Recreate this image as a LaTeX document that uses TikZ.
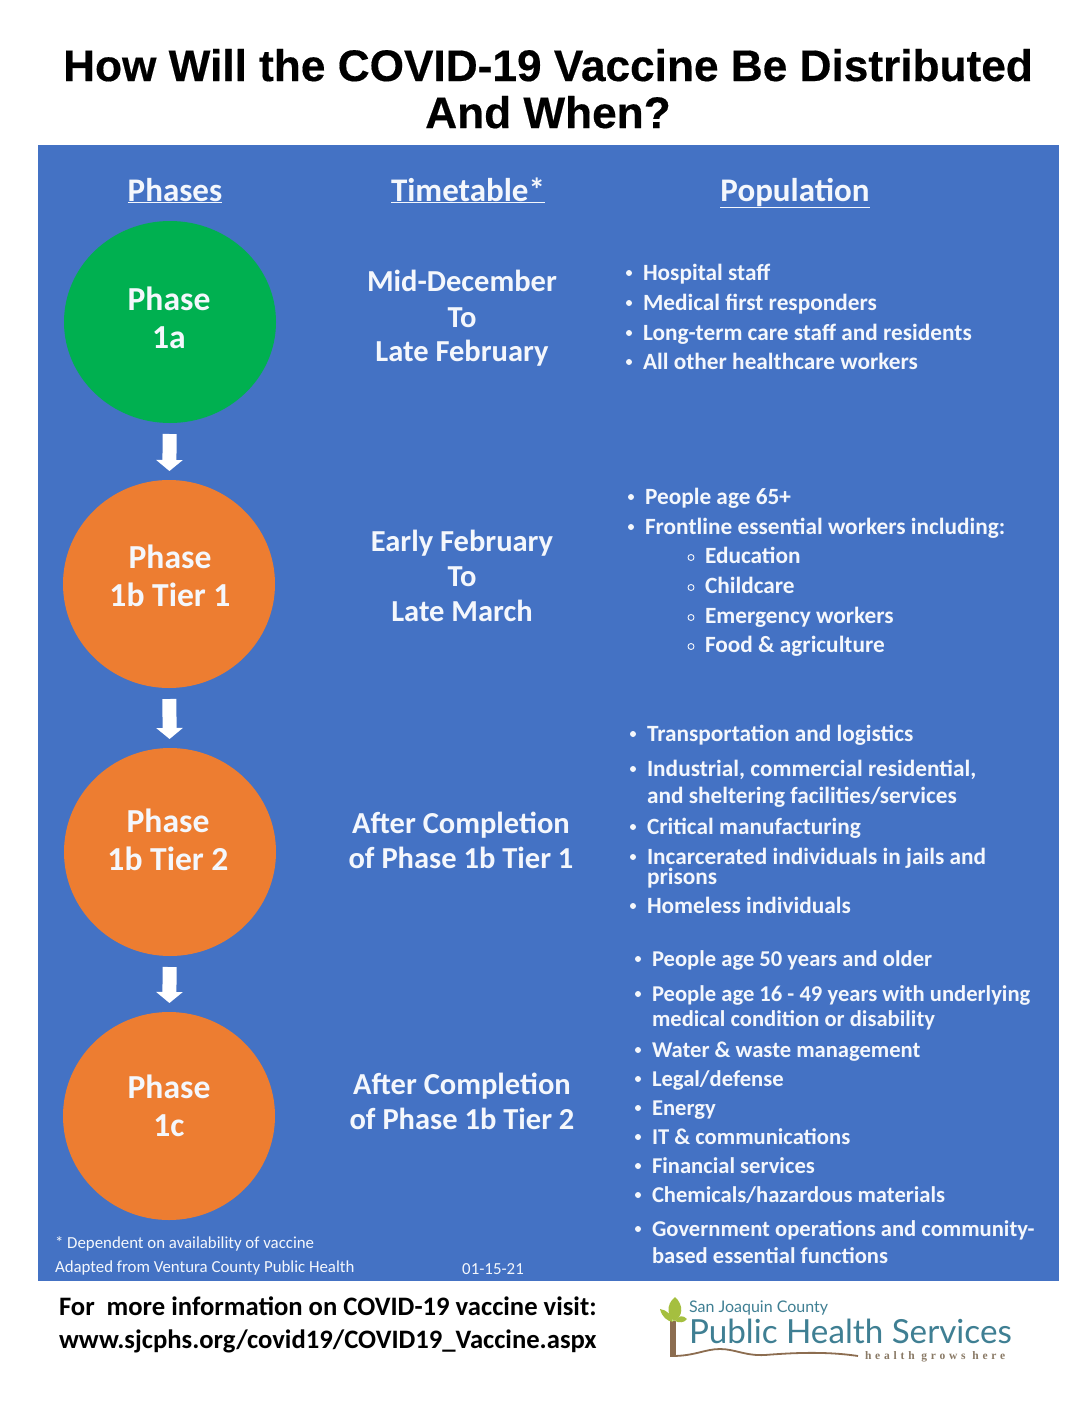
\documentclass[tikz,border=0pt]{standalone}
\usepackage{fontspec}
\setmainfont{Carlito}
\newfontfamily\titlefont[BoldFeatures={FakeBold=0.35}]{Liberation Sans}
\newfontfamily\logofont{Lato}
\newfontfamily\tagfont[LetterSpace=33]{Liberation Serif}
\usetikzlibrary{shapes.geometric,arrows.meta}
\definecolor{panel}{HTML}{4472C4}
\definecolor{phorange}{HTML}{ED7D31}
\definecolor{phgreen}{HTML}{00B050}
\definecolor{logoteal}{HTML}{3F7F93}
\definecolor{logobrown}{HTML}{8C6D50}
\definecolor{logoleaf}{HTML}{A5BF3F}
\definecolor{logotag}{HTML}{8A7A66}
\definecolor{wtext}{HTML}{F4F7FC}
\tikzset{
  x=1pt,y=-1pt,
  every node/.style={inner sep=0pt,outer sep=0pt},
  phasenode/.style={ellipse,minimum width=212pt,minimum height=208pt},
  phaselabel/.style={anchor=base,text=wtext,font=\fontsize{33.6}{38}\selectfont\bfseries},
  flow/.style={draw=white,line width=14pt,-{Triangle[length=11pt,width=26pt]},shorten <=11pt,shorten >=9pt},
  headtext/.style={anchor=base,text=wtext,font=\fontsize{33}{38}\selectfont\bfseries},
  timetext/.style={anchor=base,text=wtext,font=\fontsize{30.5}{36}\selectfont\bfseries},
  poptext/.style={anchor=base west,text=wtext,font=\fontsize{23.3}{28}\selectfont\bfseries},
  poptight/.style={poptext,font=\fontsize{22.6}{28}\selectfont\bfseries},
  bulletmark/.style={circle,fill=wtext,minimum size=6pt},
  subcircle/.style={circle,draw=wtext,line width=0.9pt,minimum size=6pt},
  notetext/.style={anchor=base west,text=wtext,font=\fontsize{16.85}{20}\selectfont},
  foottext/.style={anchor=base west,text=black,font=\fontsize{26.65}{32}\selectfont\bfseries},
  titletext/.style={anchor=base,text=black,font=\fontsize{44.2}{48}\selectfont\titlefont\bfseries},
}
\newcommand{\popitem}[4]{%
  \node[bulletmark] (#1b) at (#2-14,#3-7) {};
  \node[poptext] (#1) at (#2,#3) {#4};}
\newcommand{\popitemt}[4]{%
  \node[bulletmark] (#1b) at (#2-14,#3-7) {};
  \node[poptight] (#1) at (#2,#3) {#4};}
\newcommand{\popsub}[4]{%
  \node[subcircle] (#1b) at (#2-14,#3-5.5) {};
  \node[poptext] (#1) at (#2,#3) {#4};}
\newcommand{\popcont}[4]{\node[poptext] (#1) at (#2,#3) {#4};}
\newcommand{\popcontt}[4]{\node[poptight] (#1) at (#2,#3) {#4};}
\newcommand{\myuline}[1]{\underline{#1}}
\begin{document}
\begin{tikzpicture}
\useasboundingbox (0,0) rectangle (1088,1408);
\fill[white] (0,0) rectangle (1088,1408);
\fill[panel] (38,145) rectangle (1059,1281);
% title
\node[titletext] (t1) at (548,81) {How Will the COVID-19 Vaccine Be Distributed};
\node[titletext] (t2) at (548,128) {And When?};
% headings
\node[headtext] (h1) at (175,201) {\myuline{Phases}};
\node[headtext] (h2) at (468,201) {\myuline{Timetable*}};
\node[headtext] (h3) at (795,201) {\myuline{Population}};
% phases
\node[phasenode,fill=phgreen,minimum height=202pt] (a) at (170,322) {};
\node[phasenode,fill=phorange] (b) at (169,584) {};
\node[phasenode,fill=phorange] (c) at (170,852) {};
\node[phasenode,fill=phorange] (d) at (169,1116) {};
\node[phaselabel] (a1) at (169,310) {Phase};
\node[phaselabel] (a2) at (169,348) {1a};
\node[phaselabel] (b1) at (170,568) {Phase};
\node[phaselabel] (b2) at (170,606) {1b Tier 1};
\node[phaselabel] (c1) at (168,832) {Phase};
\node[phaselabel] (c2) at (168,870) {1b Tier 2};
\node[phaselabel] (d1) at (169,1098) {Phase};
\node[phaselabel] (d2) at (169,1136) {1c};
\draw[flow] (a) -- (b);
\draw[flow] (b) -- (c);
\draw[flow] (c) -- (d);
% timetable
\node[timetext] (m1) at (462,291) {Mid-December};
\node[timetext] (m2) at (462,327) {To};
\node[timetext] (m3) at (462,361) {Late February};
\node[timetext] (e1) at (462,551) {Early February};
\node[timetext] (e2) at (462,586) {To};
\node[timetext] (e3) at (462,621) {Late March};
\node[timetext] (f1) at (461,833) {After Completion};
\node[timetext] (f2) at (461,868) {of Phase 1b Tier 1};
\node[timetext] (g1) at (462,1094) {After Completion};
\node[timetext] (g2) at (462,1129) {of Phase 1b Tier 2};
% population 1a
\popitem{pa}{643}{280}{Hospital staff}
\popitem{pb}{643}{310}{Medical first responders}
\popitem{pc}{643}{340}{Long-term care staff and residents}
\popitem{pd}{643}{369}{All other healthcare workers}
% population 1b1
\popitem{qa}{645}{504}{People age 65+}
\popitem{qb}{645}{534}{Frontline essential workers including:}
\popsub{qc}{705}{563}{Education}
\popsub{qd}{705}{593}{Childcare}
\popsub{qe}{705}{623}{Emergency workers}
\popsub{qf}{705}{652}{Food \& agriculture}
% population 1b2
\popitem{ra}{647}{741}{Transportation and logistics}
\popitem{rb}{647}{776}{Industrial, commercial residential,}
\popcont{rc}{647}{803}{and sheltering facilities/services}
\popitem{rd}{647}{834}{Critical manufacturing}
\popitem{re}{647}{864}{Incarcerated individuals in jails and}
\popcont{rf}{647}{884}{prisons}
\popitem{rg}{647}{913}{Homeless individuals}
% population 1c
\popitemt{sa}{652}{966}{People age 50 years and older}
\popitemt{sb}{652}{1001}{People age 16 - 49 years with underlying}
\popcontt{sc}{652}{1026}{medical condition or disability}
\popitemt{sd}{652}{1057}{Water \& waste management}
\popitemt{se}{652}{1086}{Legal/defense}
\popitemt{sf}{652}{1115}{Energy}
\popitemt{sg}{652}{1144}{IT \& communications}
\popitemt{sh}{652}{1173}{Financial services}
\popitemt{si}{652}{1202}{Chemicals/hazardous materials}
\popitemt{sj}{652}{1236}{Government operations and community-}
\popcontt{sk}{652}{1263}{based essential functions}
% notes
\node[notetext] (n1) at (55,1248) {* Dependent on availability of vaccine};
\node[notetext] (n2) at (55,1272) {Adapted from Ventura County Public Health};
\node[notetext,anchor=base] (n3) at (493,1274) {01-15-21};
% footer
\node[foottext] (o1) at (59,1315) {For\ \ more information on COVID-19 vaccine visit:};
\node[foottext] (o2) at (59,1348) {www.sjcphs.org/covid19/COVID19\_Vaccine.aspx};
% logo
\fill[logobrown] (670,1321) rectangle (676,1357);
\draw[logobrown,line width=1.8pt] (672,1356) .. controls (695,1356) and (705,1349) .. (720,1349)
  .. controls (735,1349) and (745,1356) .. (765,1355) .. controls (790,1353) and (825,1351) .. (858,1356);
\fill[logoleaf] (675,1297) .. controls (665,1305) and (668,1317) .. (674,1321) .. controls (683,1317) and (684,1305) .. (675,1297);
\fill[logoleaf] (660,1309) .. controls (662,1317) and (667,1321) .. (673,1322) .. controls (672,1315) and (667,1310) .. (660,1309);
\fill[logoleaf] (687,1319) .. controls (683,1315) and (679,1315) .. (675,1321) .. controls (679,1323) and (684,1323) .. (687,1319);
\node[anchor=base west,text=logoteal,font=\fontsize{16}{18}\selectfont\logofont] (l1) at (689,1312) {San Joaquin County};
\node[anchor=base west,text=logoteal,font=\fontsize{33.2}{38}\selectfont\logofont] (l2) at (689,1343) {Public Health Services};
\node[anchor=base west,text=logotag,font=\fontsize{11.5}{14}\selectfont\bfseries\tagfont] (l3) at (865,1359) {health grows here};
\end{tikzpicture}
\end{document}
